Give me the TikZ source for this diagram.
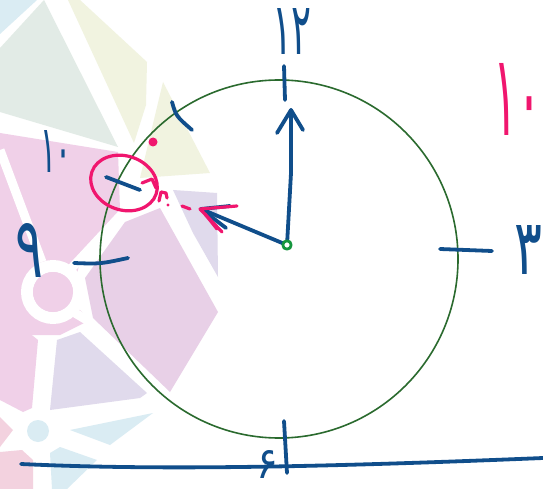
\documentclass[tikz,border=0pt]{standalone}
\usepackage{fontspec}
\usepackage{graphicx}
\newfontfamily\arabicfont[Script=Arabic]{DejaVu Sans}
\definecolor{ink}{RGB}{16,78,139}
\definecolor{hot}{RGB}{240,22,110}
\definecolor{ring}{RGB}{42,106,46}
\definecolor{gdot}{RGB}{22,150,62}
\definecolor{wmpink}{RGB}{240,208,232}
\definecolor{wmhex}{RGB}{232,208,231}
\definecolor{wmgray}{RGB}{226,235,230}
\definecolor{wmyel}{RGB}{241,243,224}
\definecolor{wmlav}{RGB}{224,218,236}
\definecolor{wmblue}{RGB}{218,236,243}
\definecolor{wmpink2}{RGB}{243,210,223}
\begin{document}
\begin{tikzpicture}[x=1pt,y=-1pt,line cap=round,line join=round,
  pen/.style={draw=ink,line width=3.8pt},
  ppen/.style={draw=hot,line width=3.2pt},
  lbl/.style={inner sep=0pt,outer sep=0pt},
  gap/.style={draw=white,line width=9pt,line cap=butt}]
\fill[white] (0,0) rectangle (543,489);
\useasboundingbox (0,0) rectangle (543,489);
% ---- faded watermark logo ----
\fill[wmblue] (0,0) -- (37,0) -- (0,34) -- cycle;
\fill[wmgray] (44,0) -- (0,48) -- (0,112) -- (118,147) -- cycle;
\fill[wmyel] (68,0) -- (80,0) -- (147,62) -- (146,105) -- (134,143) -- cycle;
\fill[wmyel] (163,82) -- (210,173) -- (140,178) -- cycle;
\fill[wmpink] (0,133) -- (118,152) -- (120,210) -- (80,262) -- (70,300) -- (90,320) -- (60,335) -- (0,335) -- cycle;
\draw[gap] (0,150) -- (42,262);
\draw[white,line width=12pt] (53,292) circle[radius=26];
\draw[gap] (68,272) -- (122,214) -- (172,190);
\draw[gap] (70,310) -- (95,325);
\fill[wmpink] (53,292) circle[radius=20];
\fill[wmhex] (93,318) -- (85,278) -- (125,222) -- (160,208) -- (218,312) -- (170,392) -- cycle;
\fill[wmlav] (173,190) -- (217,193) -- (218,277) -- (193,233) -- cycle;
\fill[wmpink] (0,327) -- (17,323) -- (38,340) -- (32,408) -- (23,412) -- (0,400) -- cycle;
\fill[wmlav] (57,340) -- (80,332) -- (147,393) -- (140,398) -- (50,410) -- cycle;
\fill[wmblue] (70,430) -- (153,413) -- (110,445) -- cycle;
\fill[wmblue] (50,453) -- (60,447) -- (97,460) -- (67,489) -- (52,489) -- cycle;
\fill[wmblue] (38,431) circle[radius=11];
\fill[wmpink2] (0,452) -- (22,450) -- (33,460) -- (33,489) -- (0,489) -- cycle;
\fill[wmpink2] (0,417) -- (13,430) -- (0,447) -- cycle;
% ---- clock face ----
\node[circle,draw=ring,line width=1.6pt,minimum size=358pt,inner sep=0pt] (face) at (279,259) {};
% ticks
\draw[pen] (284,66) -- (285,100);
\draw[pen] (440,249) -- (492,251);
\draw[pen] (74,263) .. controls (100,264) .. (128,258);
\draw[pen] (284,421) -- (287,473);
\draw[pen] (172,102) .. controls (176,116) .. (192,130);
\draw[pen] (106,177) -- (140,190);
% base line
\coordinate (bl) at (21,464);
\coordinate (br) at (543,458);
\draw[pen] (bl) .. controls (150,470) and (300,468) .. (br);
% labels
\node[lbl,text=ink] (n12) at (292,32) {\resizebox*{40pt}{46pt}{\arabicfont ۱۲}};
\node[lbl,text=ink] (n3) at (528,250) {\resizebox*{28pt}{49pt}{\arabicfont ۳}};
\node[lbl,text=ink] (n6) at (267,464) {\resizebox*{22pt}{28pt}{\arabicfont ۶}};
\node[lbl,text=ink] (n9) at (30,250) {\resizebox*{28pt}{54pt}{\arabicfont ۹}};
\node[lbl,text=ink] (n10) at (56,151) {\resizebox*{32pt}{42pt}{\arabicfont ۱۰}};
\node[lbl,text=hot] (p10) at (517,99) {\resizebox*{48pt}{72pt}{\arabicfont ۱۰}};
% pink marks
\fill[hot] (153,142) circle[radius=4.5];
\draw[ppen] (124,183) ellipse[x radius=34pt,y radius=27pt,rotate=-19];
\draw[ppen] (142,183) -- (152,179) -- (156,188);
\draw[ppen] (159,201) -- (161,192) -- (166,193) -- (167,198);
\fill[hot] (168,205) circle[radius=1.6];
\draw[ppen] (182,206) -- (190,209);
% hands
\node[circle,lbl,minimum size=9pt] (ctr) at (287,245) {};
\coordinate (mtip) at (291,110);
\coordinate (htip) at (201,209);
\draw[pen] (ctr.center) -- (291,173) -- (mtip);
\draw[pen] (277,133) -- (mtip) -- (303,130);
\draw[pen] (ctr.center) -- (htip);
\draw[pen] (230,206) -- (htip) -- (226,228);
\draw[ppen] (237,206) -- (200,209) -- (222,232);
\draw[ppen] (205,214) -- (217,229);
\draw[gdot,line width=2.8pt,fill=white] (ctr) circle[radius=4.2];
\end{tikzpicture}
\end{document}
